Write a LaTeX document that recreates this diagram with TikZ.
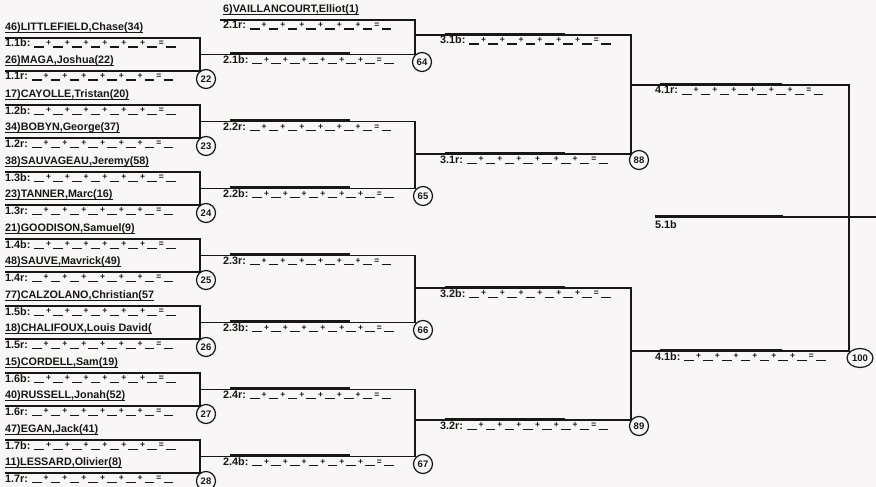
\documentclass[tikz,border=0pt]{standalone}
\usepackage{fontspec}
\setmainfont{Liberation Sans}
\usetikzlibrary{shapes.geometric}
\definecolor{paper}{RGB}{248,246,246}
\definecolor{ink}{RGB}{25,22,22}
\newcommand\blk{\rule[-0.6pt]{9.5pt}{1.1pt}}
\newcommand\pl{\makebox[9.3pt]{\raisebox{1.2pt}{\fontsize{8.5}{8.5}\selectfont\bfseries +}}}
\newcommand\eqs{\makebox[9.3pt]{\raisebox{1.2pt}{\fontsize{8.5}{8.5}\selectfont\bfseries =}}}
\newcommand\scoreline[1]{#1: \blk\pl\blk\pl\blk\pl\blk\pl\blk\pl\blk\pl\blk\eqs\blk}
\begin{document}
\begin{tikzpicture}[x=1pt,y=-1pt,
  ln/.style={draw=ink,line width=1.2pt},
  bar/.style={draw=ink,line width=2.2pt},
  ul/.style={draw=ink,line width=0.9pt},
  nm/.style={anchor=base west,inner sep=0pt,font=\bfseries\fontsize{10.8}{10.8}\selectfont,text=ink},
  sc/.style={nm},
  seed/.style={circle,draw=ink,line width=1.2pt,minimum size=19pt,inner sep=0pt,font=\bfseries\fontsize{9.5}{9.5}\selectfont,text=ink},
  seedw/.style={ellipse,draw=ink,line width=1.2pt,minimum width=26pt,minimum height=19pt,inner sep=0pt,font=\bfseries\fontsize{9.5}{9.5}\selectfont,text=ink}]
\fill[paper] (0,0) rectangle (876,487);
\useasboundingbox (0,0) rectangle (876,487);

% ---------- round 1 ----------
\foreach \k/\na/\nb/\c in {0/{46)LITTLEFIELD,Chase(34)}/{26)MAGA,Joshua(22)}/22,
  1/{17)CAYOLLE,Tristan(20)}/{34)BOBYN,George(37)}/23,
  2/{38)SAUVAGEAU,Jeremy(58)}/{23)TANNER,Marc(16)}/24,
  3/{21)GOODISON,Samuel(9)}/{48)SAUVE,Mavrick(49)}/25,
  4/{77)CALZOLANO,Christian(57}/{18)CHALIFOUX,Louis David(}/26,
  5/{15)CORDELL,Sam(19)}/{40)RUSSELL,Jonah(52)}/27,
  6/{47)EGAN,Jack(41)}/{11)LESSARD,Olivier(8)}/28}{
  \pgfmathsetmacro\yt{38+67*\k}
  \pgfmathsetmacro\yb{71+67*\k}
  \pgfmathtruncatemacro\m{\k+1}
  \coordinate (a\k) at (5,\yt);
  \coordinate (at\k) at (200,\yt);
  \coordinate (ab\k) at (200,\yb);
  \coordinate (b\k) at (5,\yb);
  \draw[ln] (a\k) -- (at\k) -- (ab\k) -- (b\k);
  \node[nm] (na\k) at (5,\yt-7.5) {\na};
  \node[nm] (nb\k) at (5,\yb-7.5) {\nb};
  \draw[ul] ([yshift=-2pt]na\k.base west) -- ([yshift=-2pt]na\k.base east);
  \draw[ul] ([yshift=-2pt]nb\k.base west) -- ([yshift=-2pt]nb\k.base east);
  \node[sc] (sa\k) at (5,\yt+9) {\scoreline{1.\m b}};
  \node[sc] (sb\k) at (5,\yb+9) {\scoreline{1.\m r}};
  \node[seed] (s\c) at (206,\yb+8) {\c};
}

% ---------- round 2 ----------
\coordinate (v21s) at (220,20);
\coordinate (v21t) at (415,20);
\coordinate (v21b) at (415,54.5);
\coordinate (m21) at (200,54.5);
\draw[ln] (v21s) -- (v21t) -- (v21b) -- (m21);
\node[nm] (vail) at (223,12.5) {6)VAILLANCOURT,Elliot(1)};
\draw[ul] ([yshift=-2pt]vail.base west) -- ([yshift=-2pt]vail.base east);
\node[sc] at (223,29) {\scoreline{2.1r}};
\node[sc] at (223,63.5) {\scoreline{2.1b}};
\draw[bar] (230,53.5) -- (350,53.5);
\node[seed] (s64) at (422,62) {64};

\foreach \j/\yt/\yb/\c in {2/121.5/188.5/65, 3/255.5/322.5/66, 4/389.5/456.5/67}{
  \coordinate (p\j t) at (200,\yt);
  \coordinate (q\j t) at (415,\yt);
  \coordinate (q\j b) at (415,\yb);
  \coordinate (p\j b) at (200,\yb);
  \draw[ln] (p\j t) -- (q\j t) -- (q\j b) -- (p\j b);
  \draw[bar] (230,\yt-1) -- (350,\yt-1);
  \draw[bar] (230,\yb-1) -- (350,\yb-1);
  \node[sc] at (223,\yt+9) {\scoreline{2.\j r}};
  \node[sc] at (223,\yb+9) {\scoreline{2.\j b}};
  \node[seed] (s\c) at (423,\yb+7.5) {\c};
}

% ---------- round 3 ----------
\foreach \j/\yt/\yb/\c in {1/35/154/88, 2/288/420/89}{
  \coordinate (u\j t) at (415,\yt);
  \coordinate (w\j t) at (631,\yt);
  \coordinate (w\j b) at (631,\yb);
  \coordinate (u\j b) at (415,\yb);
  \draw[ln] (u\j t) -- (w\j t) -- (w\j b) -- (u\j b);
  \draw[bar] (445,\yt-1) -- (565,\yt-1);
  \draw[bar] (445,\yb-1) -- (565,\yb-1);
  \node[sc] at (440,\yt+9) {\scoreline{3.\j b}};
  \node[sc] at (440,\yb+9) {\scoreline{3.\j r}};
  \node[seed] (s\c) at (639,\yb+6) {\c};
}

% ---------- round 4 ----------
\coordinate (f1) at (631,85);
\coordinate (f2) at (849,85);
\coordinate (f3) at (849,351);
\coordinate (f4) at (631,351);
\draw[ln] (f1) -- (f2) -- (f3) -- (f4);
\draw[bar] (660,84) -- (782,84);
\draw[bar] (660,350) -- (782,350);
\node[sc] at (655,94) {\scoreline{4.1r}};
\node[sc] at (655,360) {\scoreline{4.1b}};
\node[seedw] (s100) at (860,358) {100};

% ---------- final ----------
\coordinate (g1) at (655,217);
\coordinate (g2) at (876,217);
\draw[ln] (g1) -- (g2);
\draw[bar] (655,216) -- (783,216);
\node[sc] at (655,228) {5.1b};
\end{tikzpicture}
\end{document}
